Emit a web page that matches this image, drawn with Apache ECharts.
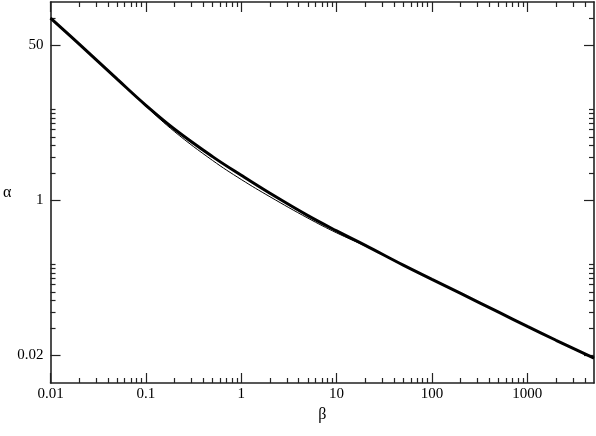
<!DOCTYPE html>
<html>
<head>
<meta charset="utf-8">
<script src="https://cdn.jsdelivr.net/npm/echarts@6/dist/echarts.min.js"></script>
<style>html,body{margin:0;padding:0;background:#fff}#c{width:596px;height:436px}</style>
</head>
<body>
<div id="c"></div>
<script>
// ---- data ----
const betaValues = [0.01, 0.02, 0.05, 0.1, 0.2, 0.5, 1, 2, 5, 10, 20, 50, 100, 200, 500, 1000, 2000, 5000];
const alphaThick = [100, 51.8, 21.4, 11.06, 6.05, 3.03, 1.89, 1.2, 0.683, 0.465, 0.323, 0.196, 0.137, 0.096, 0.0597, 0.0418, 0.0294, 0.0187];
const alphaThin  = [100, 51.8, 21.2, 10.8, 5.68, 2.75, 1.70, 1.10, 0.641, 0.442, 0.317, 0.196, 0.137, 0.096, 0.0597, 0.0418, 0.0294, 0.0187];

const xMajorTicks = [0.01, 0.1, 1, 10, 100, 1000];
const xTickLabels = ['0.01', '0.1', '1', '10', '100', '1000'];
const xMinorTicks = [0.02,0.03,0.04,0.05,0.06,0.07,0.08,0.09,
                     0.2,0.3,0.4,0.5,0.6,0.7,0.8,0.9,
                     2,3,4,5,6,7,8,9,
                     20,30,40,50,60,70,80,90,
                     200,300,400,500,600,700,800,900,
                     2000,3000,4000];
const yMajorTicks = [0.02, 1, 50];
const yTickLabels = ['0.02', '1', '50'];
const yMinorTicks = [0.04,0.06,0.08,0.1,0.12,0.14,0.16,0.18,0.2,
                     2,3,4,5,6,7,8,9,10,
                     100];
const xRange = [0.01, 5000];
const yRange = [0.01, 150];

// ---- chart ----
const font = 'Liberation Serif';
function makeFmt(vals, labels) {
  return function (v) {
    for (let i = 0; i < vals.length; i++) {
      if (Math.abs(Math.log10(v) - Math.log10(vals[i])) < 1e-6) return labels[i];
    }
    return '';
  };
}
function axis(dim, pos, ticks, len, withLabels, withLine, extra) {
  const isX = dim === 'x';
  const o = {
    type: 'log',
    logBase: 10,
    min: isX ? xRange[0] : yRange[0],
    max: isX ? xRange[1] : yRange[1],
    position: pos,
    axisLine: {show: withLine, onZero: false, lineStyle: {color: '#222', width: 1.6}},
    axisTick: {show: true, inside: true, length: len, customValues: ticks, lineStyle: {color: '#222', width: 1.2}},
    axisLabel: withLabels ? {
      show: true,
      customValues: isX ? xMajorTicks : yMajorTicks,
      formatter: isX ? makeFmt(xMajorTicks, xTickLabels) : makeFmt(yMajorTicks, yTickLabels),
      fontFamily: font, fontSize: 15, color: '#000', margin: isX ? 4 : 7
    } : {show: false},
    splitLine: {show: false},
    minorTick: {show: false},
    minorSplitLine: {show: false}
  };
  return Object.assign(o, extra || {});
}

const chart = echarts.init(document.getElementById('c'), null, {renderer: 'canvas'});
chart.setOption({
  animation: false,
  backgroundColor: '#fff',
  grid: {left: 49, top: 2, right: 2, bottom: 53, containLabel: false},
  xAxis: [
    axis('x', 'bottom', xMajorTicks, 10, true, true, {
      name: 'β', nameLocation: 'middle', nameGap: 20,
      nameTextStyle: {fontFamily: font, fontSize: 16, color: '#000'}
    }),
    axis('x', 'bottom', xMinorTicks, 5, false, false),
    axis('x', 'top', xMajorTicks, 10, false, true),
    axis('x', 'top', xMinorTicks, 5, false, false)
  ],
  yAxis: [
    axis('y', 'left', yMajorTicks, 10, true, true, {
      name: 'α', nameLocation: 'middle', nameGap: 38, nameRotate: 0,
      nameTextStyle: {fontFamily: font, fontSize: 16, color: '#000', padding: [4, 0, 0, 0]}
    }),
    axis('y', 'left', yMinorTicks, 5, false, false),
    axis('y', 'right', yMajorTicks, 10, false, true),
    axis('y', 'right', yMinorTicks, 5, false, false)
  ],
  series: [
    {
      type: 'line', xAxisIndex: 0, yAxisIndex: 0,
      data: betaValues.map((b, i) => [b, alphaThin[i]]),
      smooth: 0.4, showSymbol: false, symbol: 'none',
      lineStyle: {color: '#000', width: 1}
    },
    {
      type: 'line', xAxisIndex: 0, yAxisIndex: 0,
      data: betaValues.map((b, i) => [b, alphaThick[i]]),
      smooth: 0.4, showSymbol: false, symbol: 'none',
      lineStyle: {color: '#000', width: 3}
    }
  ]
});
</script>
</body>
</html>
